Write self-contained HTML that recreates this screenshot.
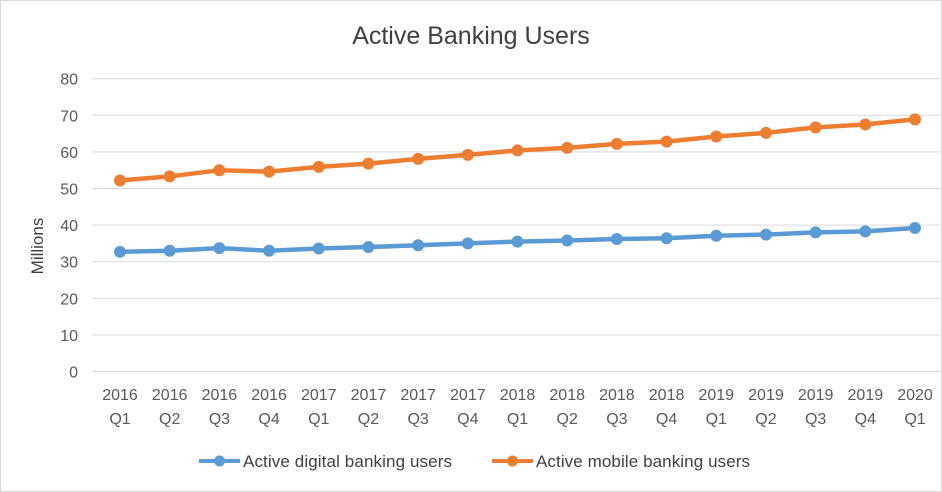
<!DOCTYPE html>
<html><head><meta charset="utf-8"><style>
body{margin:0;background:#fff;font-family:"Liberation Sans",sans-serif}
svg{display:block}
</style></head><body>
<svg width="942" height="492">
<rect x="0.5" y="0.5" width="941" height="491" fill="#fff" stroke="#d9d9d9"/>
<text x="471" y="44" text-anchor="middle" font-size="25" fill="#404040">Active Banking Users</text>
<text transform="translate(43,246) rotate(-90)" text-anchor="middle" font-size="17" fill="#404040">Millions</text>
<g id="grid"></g><g id="xl"></g><g id="series"></g>
<g>
<g><line x1="199" y1="461" x2="240" y2="461" stroke="#5b9bd5" stroke-width="4"/><circle cx="219.5" cy="461" r="5.5" fill="#5b9bd5"/><text x="243" y="467" font-size="17" fill="#404040" textLength="209">Active digital banking users</text></g>
<g><line x1="492" y1="461" x2="533" y2="461" stroke="#ed7d31" stroke-width="4"/><circle cx="512.5" cy="461" r="5.5" fill="#ed7d31"/><text x="536" y="467" font-size="17" fill="#404040" textLength="214">Active mobile banking users</text></g>
</g>
</svg>
<script>
const years=["2016","2016","2016","2016","2017","2017","2017","2017","2018","2018","2018","2018","2019","2019","2019","2019","2020"];
const quarters=["Q1","Q2","Q3","Q4","Q1","Q2","Q3","Q4","Q1","Q2","Q3","Q4","Q1","Q2","Q3","Q4","Q1"];
const digital=[32.7,33,33.7,33,33.6,34,34.5,35,35.5,35.8,36.2,36.4,37.1,37.4,38,38.3,39.2];
const mobile=[52.2,53.3,55,54.6,55.9,56.8,58.1,59.2,60.4,61.1,62.2,62.8,64.2,65.2,66.7,67.5,68.9];
const yTicks=[0,10,20,30,40,50,60,70,80];
const NS="http://www.w3.org/2000/svg";
const x0=120,x1=915,yb=371.5,yt=78.7;
const xs=i=>x0+(x1-x0)*i/(years.length-1);
const ys=v=>yb-(yb-yt)*v/80;
function mk(t,a,p){const e=document.createElementNS(NS,t);for(const k in a)e.setAttribute(k,a[k]);p.appendChild(e);return e;}
const g=document.getElementById('grid');
yTicks.forEach(v=>{
 const l=mk('line',{x1:92,x2:940,y1:ys(v),y2:ys(v),stroke:'#d9d9d9','stroke-width':1},g);
 
 
 const t=mk('text',{x:78,y:ys(v)+6,'text-anchor':'end','font-size':16,fill:'#595959'},g);
 t.textContent=v;
 
 
});
const xl=document.getElementById('xl');
years.forEach((y,i)=>{
 const t=mk('text',{x:xs(i),y:400,'text-anchor':'middle','font-size':16,fill:'#595959'},xl);
 t.textContent=y;
 
 
 const q=mk('text',{x:xs(i),y:424,'text-anchor':'middle','font-size':16,fill:'#595959'},xl);
 q.textContent=quarters[i];
 
 
});
const s=document.getElementById('series');
[[digital,'#5b9bd5','digital'],[mobile,'#ed7d31','mobile']].forEach(([d,c,n])=>{
 const p=mk('polyline',{points:d.map((v,i)=>xs(i)+','+ys(v)).join(' '),fill:'none',stroke:c,'stroke-width':4.5,'stroke-linejoin':'round'},s);
 
 
 d.forEach((v,i)=>{
  const ci=mk('circle',{cx:xs(i),cy:ys(v),r:6,fill:c},s);
  
  
 });
});
</script>
</body></html>
